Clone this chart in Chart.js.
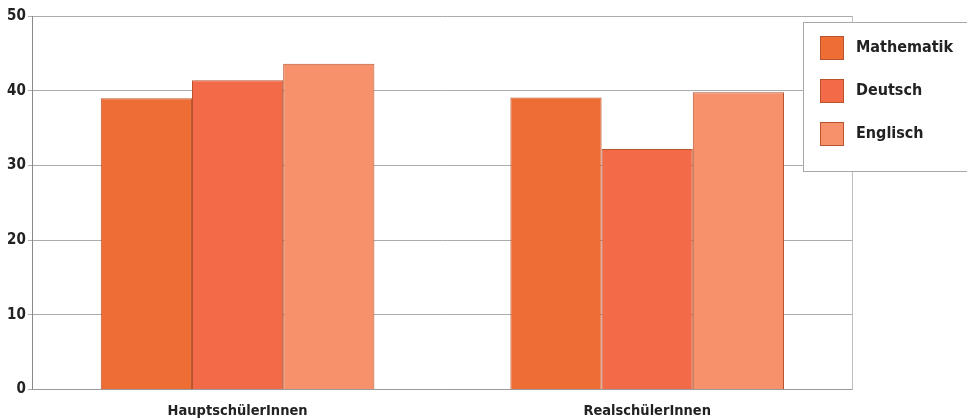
<!DOCTYPE html>
<html>
<head>
<meta charset="utf-8">
<script src="https://cdn.jsdelivr.net/npm/chart.js@4/dist/chart.umd.min.js"></script>
<style>
	html, body { margin: 0; padding: 0; background: #fff; }
	#wrap { width: 967px; height: 419px; }
</style>
</head>
<body>
<div id="wrap"><canvas id="mycanvas" width="967" height="419"></canvas></div>
<script>
var categories = ['HauptschülerInnen', 'RealschülerInnen'];
var subjects = ['Mathematik', 'Deutsch', 'Englisch'];
var mathematik = [39.0, 39.1];
var deutsch = [41.4, 32.2];
var englisch = [43.6, 39.8];
var yTicks = [0, 10, 20, 30, 40, 50];

var fills = ['#ee6d35', '#f26a48', '#f6916c'];
var edge = '#b9532e';
var font = '"Liberation Sans Narrow", "DejaVu Sans Condensed", "Liberation Sans", sans-serif';

// thin frame line on the right side of the plot
var rightEdge = {
	id: 'rightEdge',
	beforeDatasetsDraw: function(chart) {
		var a = chart.chartArea, ctx = chart.ctx;
		ctx.save();
		ctx.strokeStyle = '#bdbdbd';
		ctx.lineWidth = 1;
		ctx.beginPath();
		ctx.moveTo(Math.round(a.right) + 0.5, a.top);
		ctx.lineTo(Math.round(a.right) + 0.5, a.bottom);
		ctx.stroke();
		ctx.restore();
	}
};

// legend box drawn by hand, the built-in one cannot sit over the right edge like this
var boxLegend = {
	id: 'boxLegend',
	afterDraw: function(chart) {
		var ctx = chart.ctx;
		ctx.save();
		ctx.fillStyle = '#fff';
		ctx.fillRect(803, 22, 170, 149);
		ctx.strokeStyle = '#a8a8a8';
		ctx.lineWidth = 1;
		ctx.strokeRect(803.5, 22.5, 170, 149);
		chart.data.datasets.forEach(function(ds, i) {
			var y = 36 + i * 43;
			ctx.fillStyle = ds.backgroundColor;
			ctx.fillRect(820, y, 24, 24);
			ctx.strokeStyle = edge;
			ctx.strokeRect(820.5, y + 0.5, 23, 23);
			ctx.fillStyle = '#222';
			ctx.font = 'bold 16px ' + font;
			ctx.textBaseline = 'middle';
			ctx.fillText(ds.label, 856, y + 12);
		});
		ctx.restore();
	}
};

var chartdata = {
	labels: categories,
	datasets: [
		{ label: subjects[0], data: mathematik, backgroundColor: fills[0] },
		{ label: subjects[1], data: deutsch, backgroundColor: fills[1] },
		{ label: subjects[2], data: englisch, backgroundColor: fills[2] }
	]
};
chartdata.datasets.forEach(function(ds) {
	ds.borderColor = edge;
	ds.borderWidth = 1;
	ds.categoryPercentage = 0.668;
	ds.barPercentage = 1.0;
});

var barGraph = new Chart(document.getElementById('mycanvas'), {
	type: 'bar',
	data: chartdata,
	plugins: [rightEdge, boxLegend],
	options: {
		responsive: false,
		animation: false,
		layout: { padding: { top: 16, right: 115, bottom: -14, left: 5 } },
		plugins: {
			legend: { display: false },
			tooltip: { enabled: false }
		},
		scales: {
			x: {
				grid: { display: false, drawTicks: false },
				border: { color: '#9a9a9a', width: 1 },
				ticks: {
					color: '#222',
					padding: 13,
					font: { family: font, size: 14.5, weight: 'bold' }
				}
			},
			y: {
				min: 0,
				max: 50,
				afterBuildTicks: function(axis) {
					axis.ticks = yTicks.map(function(v) { return { value: v }; });
				},
				grid: { color: '#ababab', lineWidth: 1, tickLength: 5 },
				border: { color: '#8a8a8a', width: 1 },
				ticks: {
					color: '#222',
					padding: 2,
					font: { family: font, size: 15, weight: 'bold' }
				}
			}
		}
	}
});
</script>
</body>
</html>
